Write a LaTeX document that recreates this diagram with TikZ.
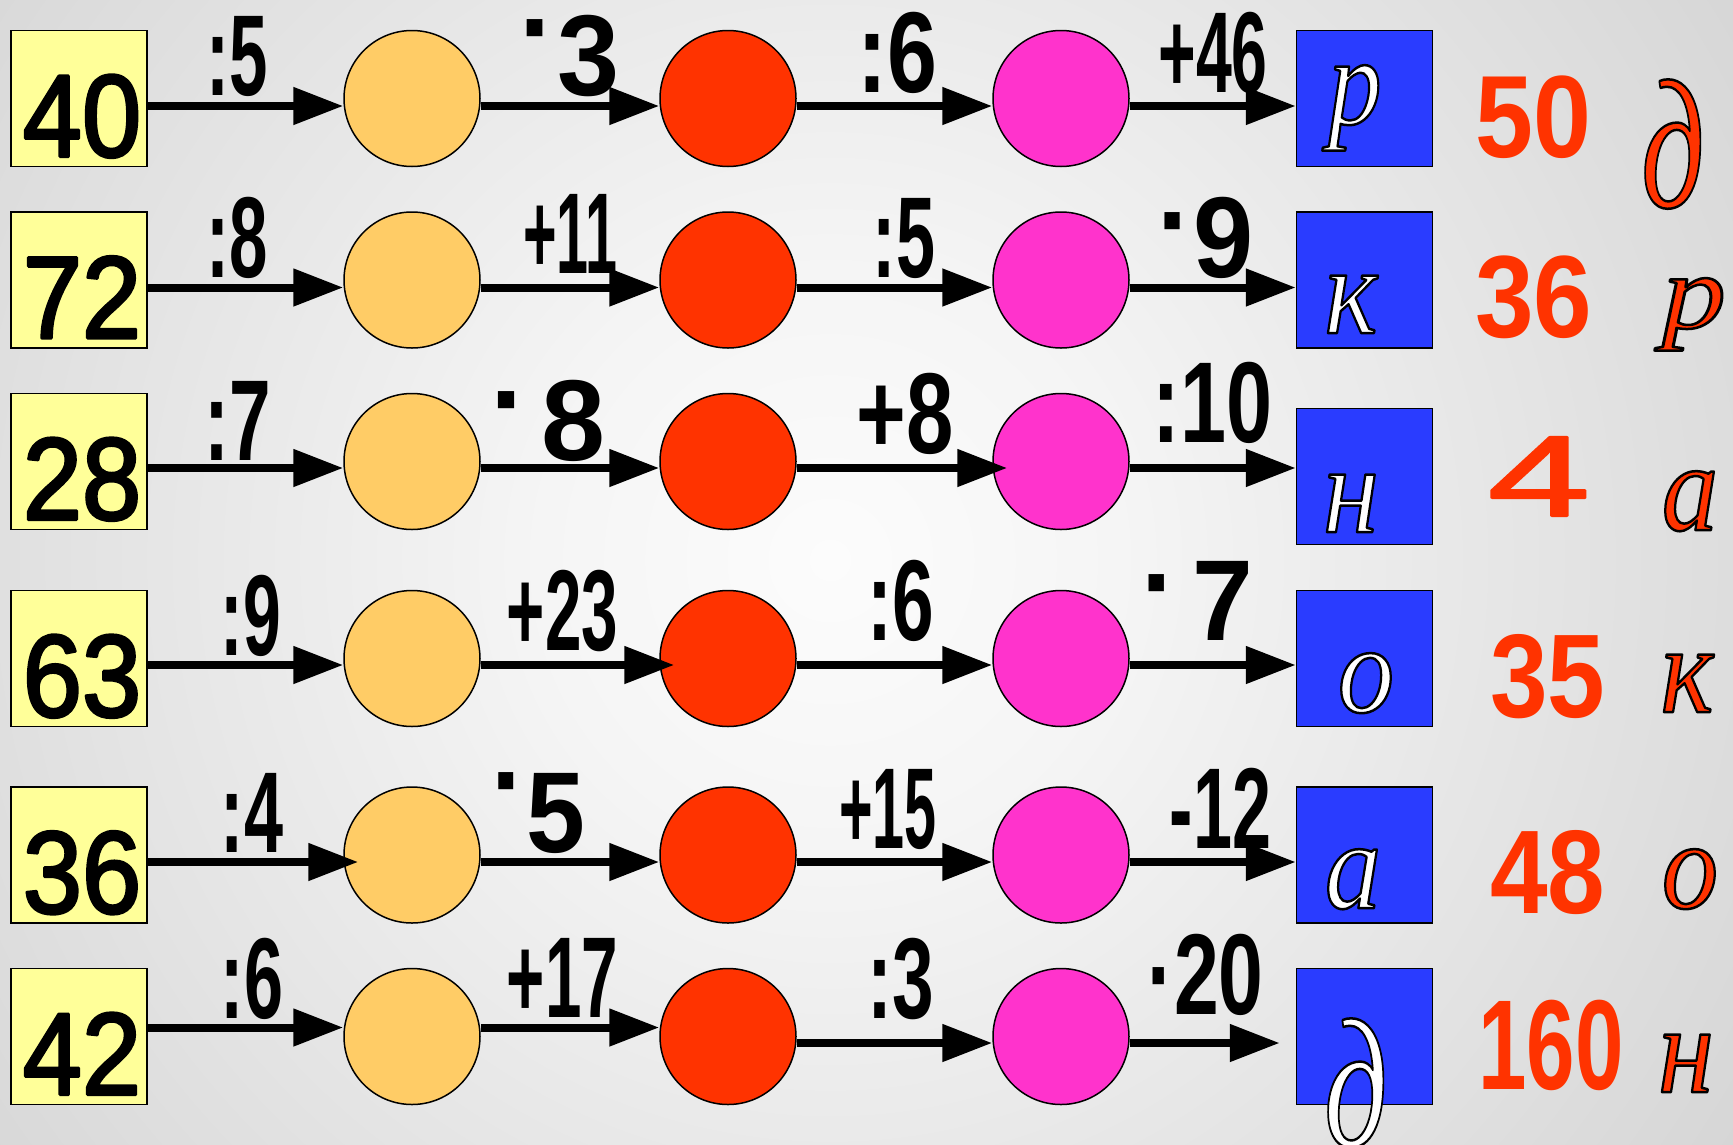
\documentclass[tikz,border=0pt]{standalone}
\usepackage{fontspec}
\setmainfont{Liberation Sans}
\newfontfamily\lserif{Liberation Serif}
\usepackage{graphicx}
\usetikzlibrary{arrows.meta,calc}
\definecolor{ybox}{RGB}{255,255,153}
\definecolor{corange}{RGB}{255,204,102}
\definecolor{cred}{RGB}{255,51,0}
\definecolor{cpink}{RGB}{255,51,204}
\definecolor{cblue}{RGB}{42,60,255}
\definecolor{tred}{RGB}{255,51,0}
\definecolor{bg0}{RGB}{252,252,252}
\definecolor{bg1}{RGB}{245,245,245}
\definecolor{bg2}{RGB}{213,213,213}
\definecolor{bg3}{RGB}{176,176,176}
\definecolor{bg4}{RGB}{160,160,160}
\definecolor{bg5}{RGB}{150,150,150}
\pgfdeclareradialshading{bgshade}{\pgfpoint{0bp}{0bp}}{color(0bp)=(bg0); color(6bp)=(bg1); color(23bp)=(bg2); color(35bp)=(bg3); color(42bp)=(bg4); color(50bp)=(bg5)}
\newcommand\ol[1]{\special{pdf:literal direct #1 w 1 j 0 0 0 RG 2 Tr}}
\newcommand\emb[1]{\special{pdf:literal direct #1 w 1 j 2 Tr}}
\newcommand\olx{\special{pdf:literal direct 0 Tr}}
\newcommand\md[1]{\raisebox{#1pt}{·}}
\tikzset{
 num/.style={inner sep=0pt, anchor=base, font=\fontsize{117}{117}\selectfont},
 lab/.style={inner sep=0pt, anchor=base, font=\bfseries\fontsize{115}{115}\selectfont},
 rnum/.style={inner sep=0pt, anchor=base, text=tred},
 ltr/.style={inner sep=0pt, anchor=base},
 arr/.style={line width=8pt, -{Triangle[length=50pt,width=36pt]}},
 ybx/.style={draw=black, line width=1.5pt, fill=ybox, minimum size=136pt, inner sep=0pt},
 crc/.style={circle, draw=black, line width=1.5pt, minimum size=136pt, inner sep=0pt},
 bbx/.style={draw=black, line width=1.5pt, fill=cblue, minimum size=136pt, inner sep=0pt},
}
\begin{document}
\begin{tikzpicture}[x=1pt,y=-1pt]
\useasboundingbox (0,0) rectangle (1733,1144);
\begin{scope}
\clip (0,0) rectangle (1733,1144);
\shade[shading=bgshade] (-370,-640) rectangle (2030,1760);
\end{scope}
% shapes
\foreach \i/\cy/\by in {1/98.5/98.5, 2/280/280, 3/461.5/476.5, 4/658.5/658.5, 5/855/855, 6/1036.5/1036.5} {
 \node[ybx] (y\i) at (79,\cy) {};
 \node[crc,fill=corange] (o\i) at (412,\cy) {};
 \node[crc,fill=cred] (r\i) at (728,\cy) {};
 \node[crc,fill=cpink] (p\i) at (1061,\cy) {};
 \node[bbx] (b\i) at (1364.5,\by) {};
}
% arrows
\foreach \i/\d in {1/7.5,2/7.5,4/6.5,5/7} {
 \draw[arr] ([yshift=-\d pt]p\i.east) -- ([yshift=-\d pt]b\i.west);
}
\draw[arr] ([yshift=-7.5pt]y1.east) -- ([yshift=-7.5pt]o1.west);
\draw[arr] ([yshift=-7.5pt]o1.east) -- ([yshift=-7.5pt]r1.west);
\draw[arr] ([yshift=-7.5pt]r1.east) -- ([yshift=-7.5pt]p1.west);
\draw[arr] ([yshift=-7.5pt]y2.east) -- ([yshift=-7.5pt]o2.west);
\draw[arr] ([yshift=-7.5pt]o2.east) -- ([yshift=-7.5pt]r2.west);
\draw[arr] ([yshift=-7.5pt]r2.east) -- ([yshift=-7.5pt]p2.west);
\draw[arr] ([yshift=-6.5pt]y3.east) -- ([yshift=-6.5pt]o3.west);
\draw[arr] ([yshift=-6.5pt]o3.east) -- ([yshift=-6.5pt]r3.west);
\draw[arr] ([yshift=-6.5pt]r3.east) -- ([shift={(15pt,-6.5pt)}]p3.west);
\draw[arr] ([yshift=-6.5pt]p3.east) -- ([yshift=8.5pt]b3.west);
\draw[arr] ([yshift=-6.5pt]y4.east) -- ([yshift=-6.5pt]o4.west);
\draw[arr] ([yshift=-6.5pt]o4.east) -- ([shift={(15pt,-6.5pt)}]r4.west);
\draw[arr] ([yshift=-6.5pt]r4.east) -- ([yshift=-6.5pt]p4.west);
\draw[arr] ([yshift=-7pt]y5.east) -- ([shift={(15pt,-7pt)}]o5.west);
\draw[arr] ([yshift=-7pt]o5.east) -- ([yshift=-7pt]r5.west);
\draw[arr] ([yshift=-7pt]r5.east) -- ([yshift=-7pt]p5.west);
\draw[arr] ([yshift=9pt]y6.east) -- ([yshift=9pt]o6.west);
\draw[arr] ([yshift=9pt]o6.east) -- ([yshift=9pt]r6.west);
\draw[arr] ([yshift=-6.5pt]r6.east) -- ([yshift=-6.5pt]p6.west);
\draw[arr] ([yshift=-6.5pt]p6.east) -- ([shift={(-16pt,-6.5pt)}]b6.west);
% start numbers
\foreach \i/\t in {1/40,2/72,3/28,4/63,5/36,6/42}
 \node[num] (n\i) at ([shift={(3pt,-58pt)}]y\i.center) {\scalebox{0.91}[1]{\emb{3}\t\olx}};
% operation labels
\node[lab] (L11) at (237.5,95) {\scalebox{0.6}[1]{:5}};
\node[lab] (L12) at (569.5,95) {\scalebox{0.97}[1]{\md{29}3}};
\node[lab] (L13) at (897,92) {\scalebox{0.78}[1]{:6}};
\node[lab] (L14) at (1213,92) {\scalebox{0.56}[1]{+46}};
\node[lab] (L21) at (237.5,277) {\scalebox{0.6}[1]{:8}};
\node[lab] (L22) at (570.5,273) {\scalebox{0.5}[1]{+11}};
\node[lab] (L23) at (904,277) {\scalebox{0.61}[1]{:5}};
\node[lab] (L24) at (1205.5,277) {\scalebox{0.94}[1]{\md{18}9}};
\node[lab] (L31) at (237.5,460) {\scalebox{0.65}[1]{:7}};
\node[lab] (L32) at (548,460) {\scalebox{1}[1]{\md{22}\hspace{12pt}8}};
\node[lab] (L33) at (905,453) {\scalebox{0.74}[1]{+8}};
\node[lab] (L34) at (1212.5,442) {\scalebox{0.72}[1]{:10}};
\node[lab] (L41) at (251,655) {\scalebox{0.59}[1]{:9}};
\node[lab] (L42) at (562.5,650) {\scalebox{0.57}[1]{+23}};
\node[lab] (L43) at (900.5,640) {\scalebox{0.65}[1]{:6}};
\node[lab] (L44) at (1197.5,640) {\scalebox{0.95}[1]{\md{18.5}\hspace{16pt}7}};
\node[lab] (L51) at (252,852) {\scalebox{0.61}[1]{:4}};
\node[lab] (L52) at (538.5,852) {\scalebox{0.92}[1]{\md{33}5}};
\node[lab] (L53) at (888,848) {\scalebox{0.5}[1]{+15}};
\node[lab] (L54) at (1220.5,848) {\scalebox{0.61}[1]{-12}};
\node[lab] (L61) at (252,1018) {\scalebox{0.61}[1]{:6}};
\node[lab] (L62) at (562.5,1017) {\scalebox{0.57}[1]{+17}};
\node[lab] (L63) at (900.5,1018) {\scalebox{0.65}[1]{:3}};
\node[lab] (L64) at (1205.5,1014) {\scalebox{0.7}[1]{\md{0}20}};
% results
\node[rnum,font=\bfseries\fontsize{117}{117}\selectfont] (v1) at (1533.5,157) {\scalebox{0.89}[1]{50}};
\node[rnum,font=\bfseries\fontsize{117}{117}\selectfont] (v2) at (1534,337) {\scalebox{0.9}[1]{36}};
\node[rnum,font=\fontsize{115}{115}\selectfont] (v3) at (1539,516) {\scalebox{1.6}[1]{\emb{2}4\olx}};
\node[rnum,font=\bfseries\fontsize{119}{119}\selectfont] (v4) at (1548,717) {\scalebox{0.87}[1]{35}};
\node[rnum,font=\bfseries\fontsize{119}{119}\selectfont] (v5) at (1548,913) {\scalebox{0.87}[1]{48}};
\node[rnum,font=\bfseries\fontsize{128}{128}\selectfont] (v6) at (1551,1089) {\scalebox{0.68}[1]{160}};
% letters in blue boxes
\node[ltr,text=white,font=\lserif\itshape\fontsize{125}{125}\selectfont] (w1) at (1355,124) {\scalebox{0.85}[1]{\ol{2.5}р\olx}};
\node[ltr,text=white,font=\lserif\itshape\fontsize{125}{125}\selectfont] (w2) at (1351,333) {\scalebox{0.9}[1]{\ol{2.5}к\olx}};
\node[ltr,text=white,font=\lserif\itshape\fontsize{125}{125}\selectfont] (w3) at (1351,532) {\scalebox{0.9}[1]{\ol{2.5}н\olx}};
\node[ltr,text=white,font=\lserif\itshape\fontsize{125}{125}\selectfont] (w4) at (1366,712) {\scalebox{0.9}[1]{\ol{2.5}о\olx}};
\node[ltr,text=white,font=\lserif\itshape\fontsize{125}{125}\selectfont] (w5) at (1353,908) {\scalebox{0.9}[1]{\ol{2.5}а\olx}};
\node[ltr,text=white,font=\lserif\itshape\fontsize{184}{184}\selectfont] (w6) at (1356,1146) {\scalebox{0.68}[1]{\ol{2.5}д\olx}};
% answer letters
\node[ltr,text=tred,font=\lserif\itshape\fontsize{184}{184}\selectfont] (a1) at (1673,207) {\scalebox{0.68}[1]{\ol{2.5}д\olx}};
\node[ltr,text=tred,font=\lserif\itshape\fontsize{106}{106}\selectfont] (a2) at (1694,328) {\scalebox{1.2}[1]{\ol{2.5}р\olx}};
\node[ltr,text=tred,font=\lserif\itshape\fontsize{125}{125}\selectfont] (a3) at (1690,530) {\scalebox{0.9}[1]{\ol{2.5}а\olx}};
\node[ltr,text=tred,font=\lserif\itshape\fontsize{125}{125}\selectfont] (a4) at (1687,712) {\scalebox{0.9}[1]{\ol{2.5}к\olx}};
\node[ltr,text=tred,font=\lserif\itshape\fontsize{125}{125}\selectfont] (a5) at (1690,908) {\scalebox{0.9}[1]{\ol{2.5}о\olx}};
\node[ltr,text=tred,font=\lserif\itshape\fontsize{125}{125}\selectfont] (a6) at (1686,1092) {\scalebox{0.9}[1]{\ol{2.5}н\olx}};
\end{tikzpicture}
\end{document}
